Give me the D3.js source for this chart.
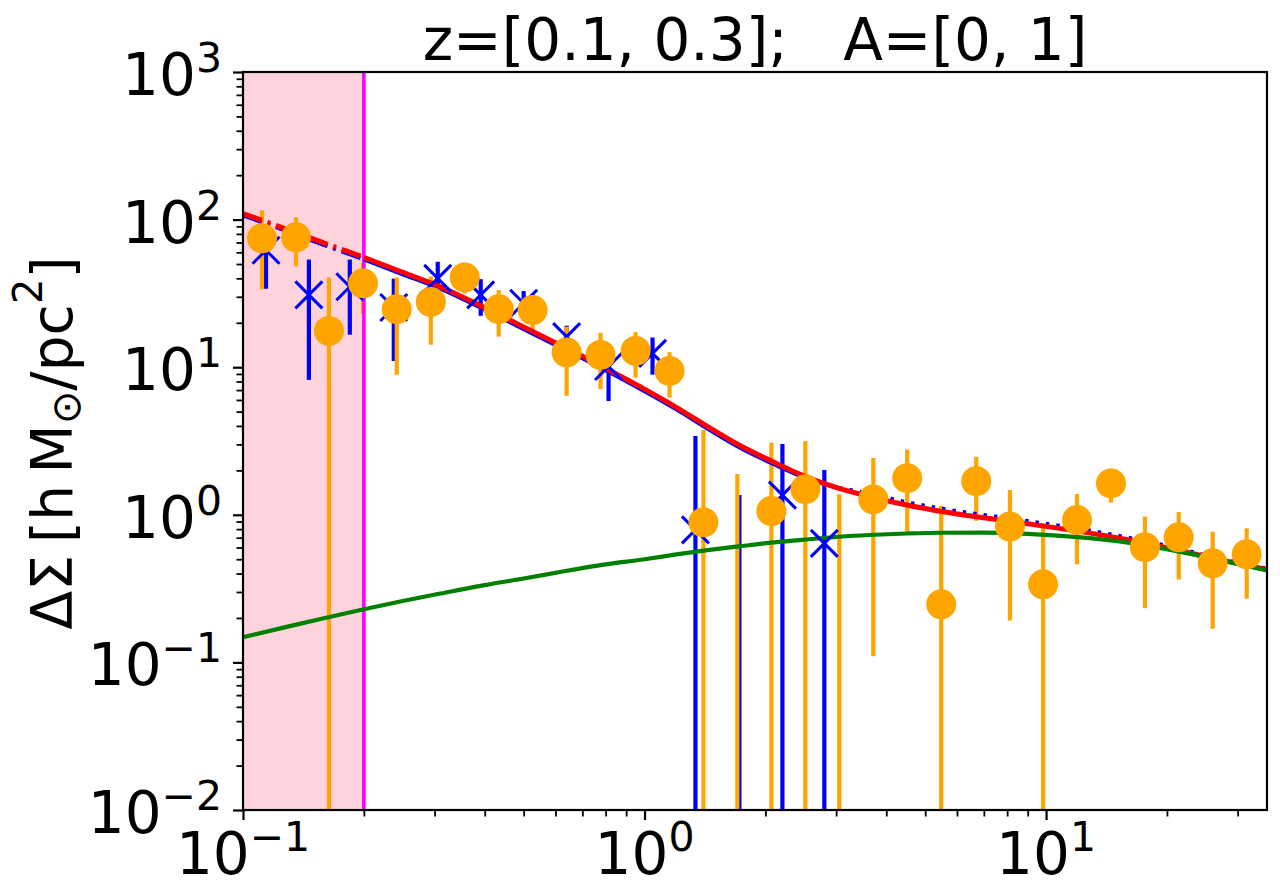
<!DOCTYPE html>
<html>
<head>
<meta charset="utf-8">
<script src="https://cdn.jsdelivr.net/npm/d3@7"></script>
<style>
  body { margin: 0; background: #fff; }
  svg text { font-family: "DejaVu Sans", sans-serif; fill: #000; }
</style>
</head>
<body>
<div id="chart"></div>
<script>
// 1: DATA
// orange points (circles)
const rOrange = [0.1115, 0.1355, 0.1637, 0.199, 0.2415, 0.2936, 0.3566, 0.4334, 0.5264, 0.6397,
                 0.777, 0.950, 1.154, 1.402, 1.703, 2.07, 2.515, 3.055, 3.713, 4.51,
                 5.48, 6.70, 8.13, 9.83, 11.94, 14.51, 17.63, 21.4, 26.0, 31.6];
const dsOrange = [74.7, 75.9, 17.6, 37.0, 24.7, 27.7, 40.6, 24.7, 24.4, 12.6,
                  12.1, 12.9, 9.43, 0.89, -0.4, 1.06, 1.49, -0.3, 1.27, 1.77,
                  0.2475, 1.69, 0.832, 0.338, 0.922, 1.63, 0.603, 0.704, 0.469, 0.54];
const errOrange = [41, 27.8, 23, 14, 15.8, 13.5, 9, 8.6, 7.3, 6.2,
                   5.0, 4.4, 3.2, 2.86, 2.29, 2.02, 1.67, 1.68, 1.16, 1.0,
                   0.9, 0.78, 0.64, 0.54, 0.46, 0.42, 0.37, 0.34, 0.3, 0.27];

// blue points (x markers)
const rBlue = [0.1141, 0.1459, 0.1845, 0.2374, 0.3055, 0.3908, 0.5, 0.6397, 0.8136, 1.047,
               1.339, 1.723, 2.205, 2.804];
const dsBlue = [62, 30.9, 35.1, 25.4, 40.0, 30.9, 27.1, 16.1, 10.1, 12.4,
                0.79, -0.3, 1.36, 0.64];
const errBlue = [28, 22.7, 18.5, 14.4, 11.8, 8.6, 5.7, 3.0, 4.2, 3.5,
                 2.63, 1.66, 1.66, 1.37];

// model curves
const rModel = [0.1, 0.13, 0.16, 0.2, 0.25, 0.31, 0.4, 0.5, 0.63, 0.8,
                1.0, 1.2, 1.45, 1.72, 2.1, 2.5, 3.05, 3.63, 4.5, 5.5,
                7, 9, 12, 16, 21, 27, 35.5];
const totalModel = [110, 84.9, 69.1, 55.5, 44.0, 35.1, 25.3, 18.7, 13.7, 9.85,
                    7.1, 5.35, 3.9, 2.97, 2.27, 1.83, 1.51, 1.33, 1.164, 1.053,
                    0.954, 0.869, 0.775, 0.677, 0.58, 0.497, 0.425];
const altModel = [107, 82.5, 67, 53.8, 42.6, 34, 24.5, 18.1, 13.25, 9.53,
                  6.87, 5.18, 3.77, 2.87, 2.2, 1.79, 1.52, 1.39, 1.216, 1.10,
                  0.997, 0.908, 0.806, 0.70, 0.597, 0.507, 0.43];
const twoHalo = [0.148, 0.1755, 0.200, 0.229, 0.2606, 0.2927, 0.334, 0.37, 0.4145, 0.461,
                 0.50, 0.539, 0.578, 0.611, 0.650, 0.679, 0.71, 0.73, 0.747, 0.756,
                 0.757, 0.742, 0.705, 0.648, 0.57, 0.495, 0.42];

const rCut = 0.2;         // inner radius cut (shaded band + vertical line)
const rBlueDotted = 3.05; // blue model switches to dotted beyond this

const xMajor = [0.1, 1, 10];
const yMajor = [0.01, 0.1, 1, 10, 100, 1000];
const titleText = "z=[0.1, 0.3];\u00a0\u00a0\u00a0A=[0, 1]";

// 2: GLOBAL LAYOUT
const W = 1280, H = 881;
const margin = { top: 72, right: 13, bottom: 71, left: 243 };
const width = W - margin.left - margin.right;
const height = H - margin.top - margin.bottom;

const svg = d3.select("#chart")
    .append("svg")
    .attr("width", W)
    .attr("height", H);

svg.append("defs").append("clipPath")
    .attr("id", "plotClip")
    .append("rect")
    .attr("width", width)
    .attr("height", height);

const g = svg.append("g")
    .attr("transform", `translate(${margin.left},${margin.top})`);

// 3: SCALES
const x = d3.scaleLog().domain([0.1, 35.5]).range([0, width]);
const y = d3.scaleLog().domain([0.01, 1000]).range([height, 0]);

const plot = g.append("g").attr("clip-path", "url(#plotClip)");

// 4: PLOT
// shaded inner region
plot.append("rect")
    .attr("x", x(0.1))
    .attr("y", 0)
    .attr("width", x(rCut) - x(0.1))
    .attr("height", height)
    .attr("fill", "#ffd3db");

const toPts = (rs, vs) => rs.map((r, i) => ({ r: r, v: vs[i] }));
const blueData = rBlue.map((r, i) => ({ r: r, v: dsBlue[i], e: errBlue[i] }));
const orangeData = rOrange.map((r, i) => ({ r: r, v: dsOrange[i], e: errOrange[i] }));

// error bars: lower ends below zero run off the bottom
const yLo = d => (d.v - d.e) > 0 ? y(d.v - d.e) : height + 10;

plot.append("g").selectAll("line")
    .data(blueData)
    .join("line")
    .attr("x1", d => x(d.r)).attr("x2", d => x(d.r))
    .attr("y1", d => y(d.v + d.e))
    .attr("y2", yLo)
    .attr("stroke", "#0000ff")
    .attr("stroke-width", 4.2);

plot.append("g").selectAll("line")
    .data(orangeData)
    .join("line")
    .attr("x1", d => x(d.r)).attr("x2", d => x(d.r))
    .attr("y1", d => y(d.v + d.e))
    .attr("y2", yLo)
    .attr("stroke", "#ffa500")
    .attr("stroke-width", 4.2);

// vertical cut line
plot.append("line")
    .attr("x1", x(rCut)).attr("x2", x(rCut))
    .attr("y1", 0).attr("y2", height)
    .attr("stroke", "#ff00ff")
    .attr("stroke-width", 3.6);

// model lines
const line = d3.line()
    .x(d => x(d.r))
    .y(d => y(d.v))
    .curve(d3.curveMonotoneX);

const altPts = toPts(rModel, altModel);
const totPts = toPts(rModel, totalModel);

function drawLine(pts, color, w, dash) {
    plot.append("path")
        .datum(pts)
        .attr("fill", "none")
        .attr("stroke", color)
        .attr("stroke-width", w)
        .attr("stroke-dasharray", dash)
        .attr("d", line);
}

drawLine(altPts.filter(d => d.r <= rCut), "#0000ff", 4, "20,6,3,6");
drawLine(altPts.filter(d => d.r >= rCut && d.r <= rBlueDotted), "#0000ff", 4, null);
drawLine(altPts.filter(d => d.r >= rBlueDotted), "#0000ff", 4, "3.5,7");
drawLine(totPts.filter(d => d.r <= rCut), "#ff0000", 5, "20,6,3,6");
drawLine(totPts.filter(d => d.r >= rCut), "#ff0000", 5, null);
drawLine(toPts(rModel, twoHalo), "#008000", 4.2, null);

// markers (non-positive values are not shown on the log axis)
const xSize = 13.5;
plot.append("g").selectAll("path")
    .data(blueData.filter(d => d.v > 0))
    .join("path")
    .attr("d", d => {
        const cx = x(d.r), cy = y(d.v);
        return `M${cx - xSize},${cy - xSize}L${cx + xSize},${cy + xSize}M${cx - xSize},${cy + xSize}L${cx + xSize},${cy - xSize}`;
    })
    .attr("stroke", "#0000ff")
    .attr("stroke-width", 3)
    .attr("fill", "none");

plot.append("g").selectAll("circle")
    .data(orangeData.filter(d => d.v > 0))
    .join("circle")
    .attr("cx", d => x(d.r))
    .attr("cy", d => y(d.v))
    .attr("r", 15)
    .attr("fill", "#ffa500");

// 5: AXES
function minorTicks(lo, hi) {
    const out = [];
    for (let p = Math.floor(Math.log10(lo)); p <= Math.ceil(Math.log10(hi)); p++) {
        for (let k = 2; k <= 9; k++) {
            const v = k * Math.pow(10, p);
            if (v > lo && v < hi) out.push(v);
        }
    }
    return out;
}

function styleAxis(sel, w) {
    sel.select(".domain").remove();
    sel.selectAll(".tick line").attr("stroke", "#000").attr("stroke-width", w);
}

g.append("g")
    .attr("transform", `translate(0,${height})`)
    .call(d3.axisBottom(x).tickValues(minorTicks(0.1, 35.5)).tickSize(6.5).tickFormat(""))
    .call(s => styleAxis(s, 1.8));
g.append("g")
    .attr("transform", `translate(0,${height})`)
    .call(d3.axisBottom(x).tickValues(xMajor).tickSize(10).tickFormat(""))
    .call(s => styleAxis(s, 2.2));
g.append("g")
    .call(d3.axisLeft(y).tickValues(minorTicks(0.01, 1000)).tickSize(6.5).tickFormat(""))
    .call(s => styleAxis(s, 1.8));
g.append("g")
    .call(d3.axisLeft(y).tickValues(yMajor).tickSize(10).tickFormat(""))
    .call(s => styleAxis(s, 2.2));

// frame
g.append("rect")
    .attr("width", width)
    .attr("height", height)
    .attr("fill", "none")
    .attr("stroke", "#000")
    .attr("stroke-width", 2.2);

// power-of-ten tick labels
const expOf = v => Math.round(Math.log10(v));
function powLabel(t, v) {
    const e = expOf(v);
    t.append("tspan").text("10");
    t.append("tspan")
        .attr("font-size", 41)
        .attr("dy", -23)
        .text(e < 0 ? "\u2212" + (-e) : String(e));
}

xMajor.forEach(v => {
    const t = g.append("text")
        .attr("x", x(v))
        .attr("y", height + 64)
        .attr("text-anchor", "middle")
        .attr("font-size", 58);
    powLabel(t, v);
});

yMajor.forEach(v => {
    const t = g.append("text")
        .attr("x", -21)
        .attr("y", y(v) + 23)
        .attr("text-anchor", "end")
        .attr("font-size", 58);
    powLabel(t, v);
});

// 6: LABELS
g.append("text")
    .attr("x", width / 2)
    .attr("y", -12)
    .attr("text-anchor", "middle")
    .attr("font-size", 58)
    .text(titleText);

const yl = g.append("text")
    .attr("transform", `translate(${72 - margin.left},${height / 2 + 2}) rotate(-90)`)
    .attr("text-anchor", "middle")
    .attr("font-size", 57);
yl.append("tspan").text("\u0394\u03a3\u2009[h\u2009M");
yl.append("tspan").attr("font-size", 40).attr("dy", 8).text("\u2299");
yl.append("tspan").attr("dy", -8).text("/pc");
yl.append("tspan").attr("font-size", 40).attr("dy", -30).text("2");
yl.append("tspan").attr("dy", 30).text("]");
</script>
</body>
</html>
